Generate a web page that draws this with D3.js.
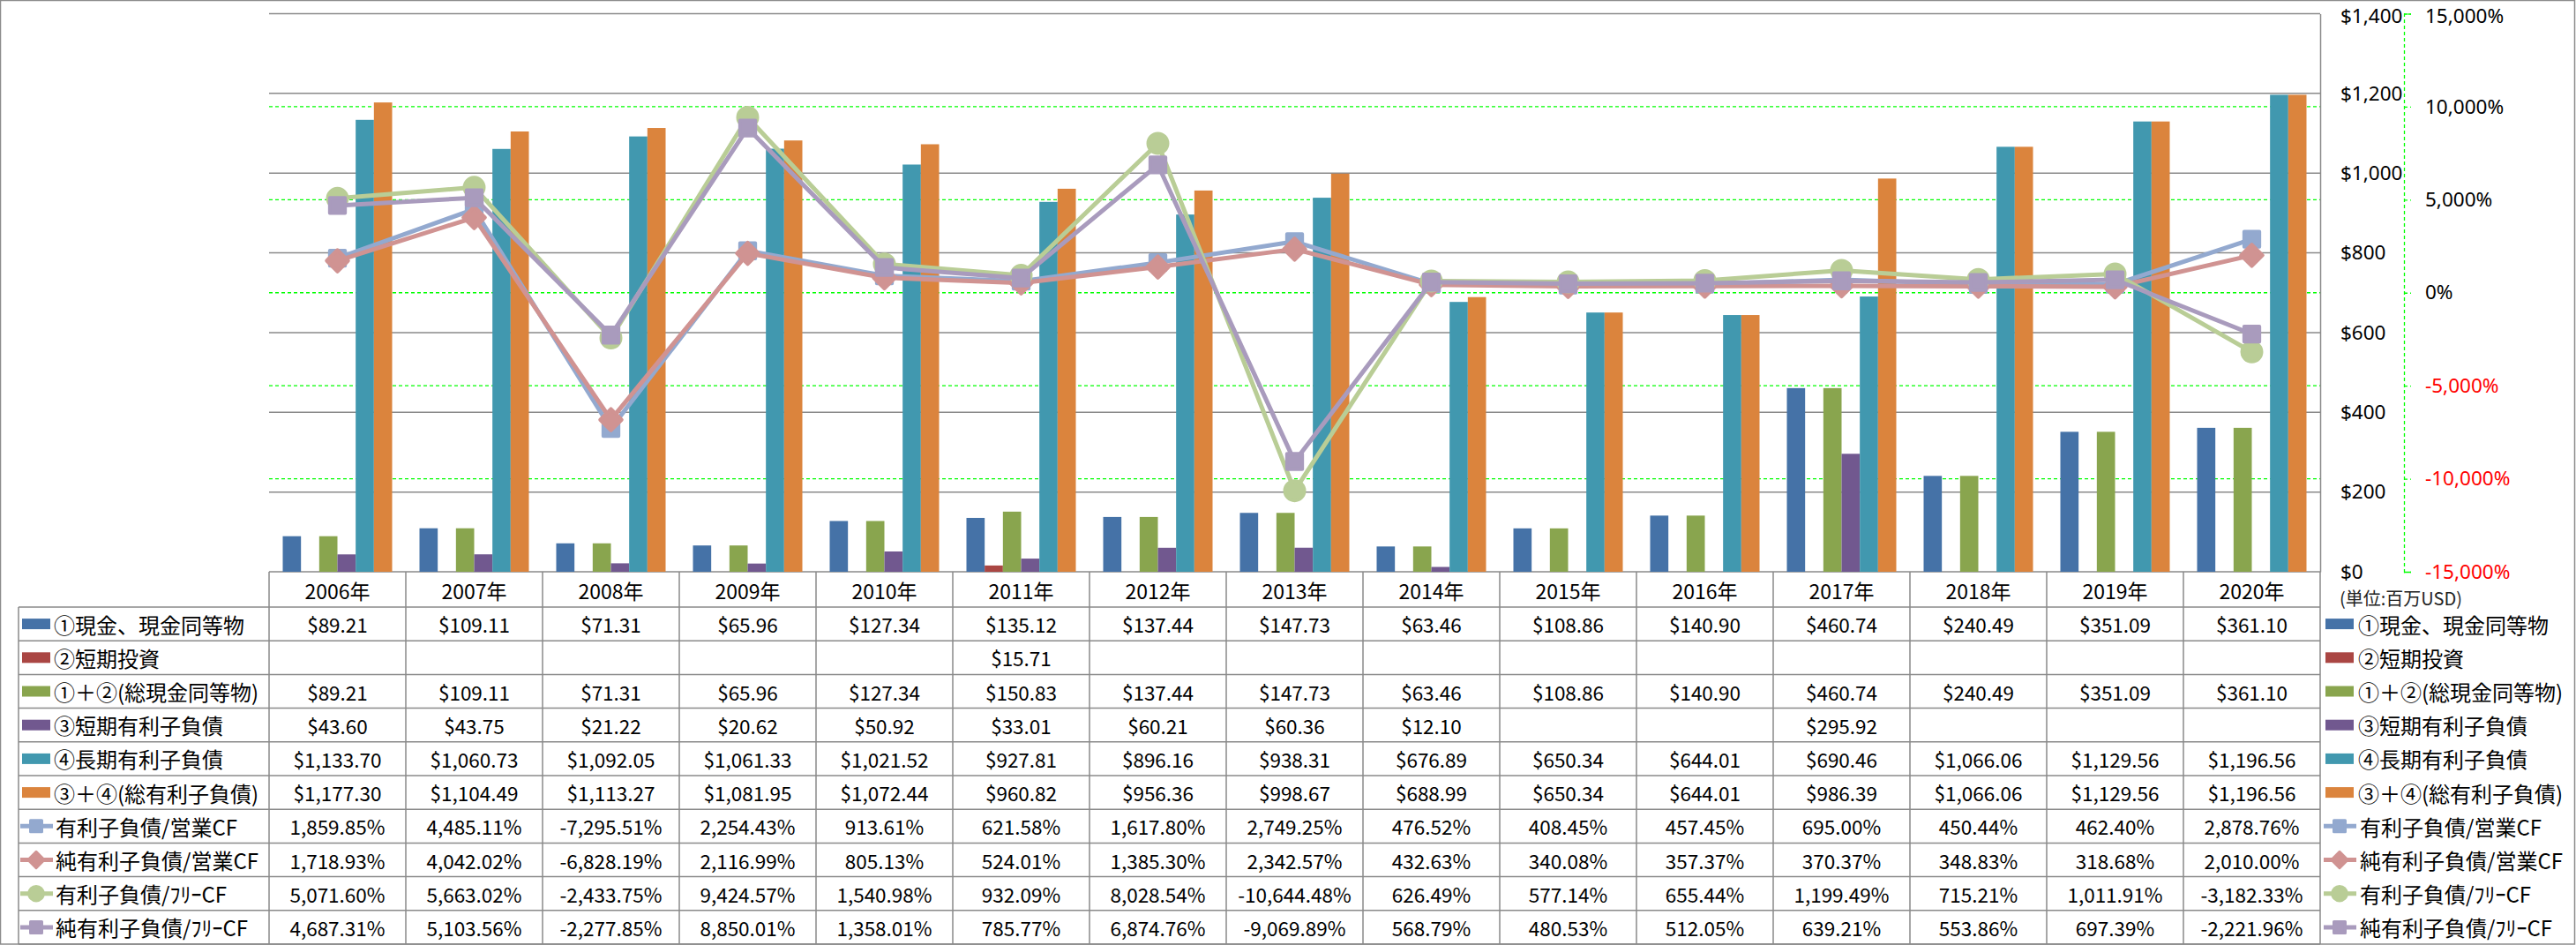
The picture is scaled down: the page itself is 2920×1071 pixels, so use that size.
<!DOCTYPE html>
<html><head><meta charset="utf-8">
<script src="https://cdn.jsdelivr.net/npm/d3@7"></script>
<style>body{margin:0;background:#fff}svg{display:block}</style>
</head><body>
<svg id="c" width="2920" height="1071"></svg>
<script>
// ---- data ----
const years = ["2006年","2007年","2008年","2009年","2010年","2011年","2012年","2013年","2014年","2015年","2016年","2017年","2018年","2019年","2020年"];
const cash        = [89.21,109.11,71.31,65.96,127.34,135.12,137.44,147.73,63.46,108.86,140.90,460.74,240.49,351.09,361.10];
const shortInv    = [null,null,null,null,null,15.71,null,null,null,null,null,null,null,null,null];
const totalCash   = [89.21,109.11,71.31,65.96,127.34,150.83,137.44,147.73,63.46,108.86,140.90,460.74,240.49,351.09,361.10];
const shortDebt   = [43.60,43.75,21.22,20.62,50.92,33.01,60.21,60.36,12.10,null,null,295.92,null,null,null];
const longDebt    = [1133.70,1060.73,1092.05,1061.33,1021.52,927.81,896.16,938.31,676.89,650.34,644.01,690.46,1066.06,1129.56,1196.56];
const totalDebt   = [1177.30,1104.49,1113.27,1081.95,1072.44,960.82,956.36,998.67,688.99,650.34,644.01,986.39,1066.06,1129.56,1196.56];
const debtOCF     = [1859.85,4485.11,-7295.51,2254.43,913.61,621.58,1617.80,2749.25,476.52,408.45,457.45,695.00,450.44,462.40,2878.76];
const netDebtOCF  = [1718.93,4042.02,-6828.19,2116.99,805.13,524.01,1385.30,2342.57,432.63,340.08,357.37,370.37,348.83,318.68,2010.00];
const debtFCF     = [5071.60,5663.02,-2433.75,9424.57,1540.98,932.09,8028.54,-10644.48,626.49,577.14,655.44,1199.49,715.21,1011.91,-3182.33];
const netDebtFCF  = [4687.31,5103.56,-2277.85,8850.01,1358.01,785.77,6874.76,-9069.89,568.79,480.53,512.05,639.21,553.86,697.39,-2221.96];
const leftTicks  = [0,200,400,600,800,1000,1200,1400];
const rightTicks = [-15000,-10000,-5000,0,5000,10000,15000];

const barSeries = [
  {name:"①現金、現金同等物", values:cash, color:"#4572A7"},
  {name:"②短期投資", values:shortInv, color:"#AA4643"},
  {name:"①＋②(総現金同等物)", values:totalCash, color:"#89A54E"},
  {name:"③短期有利子負債", values:shortDebt, color:"#71588F"},
  {name:"④長期有利子負債", values:longDebt, color:"#4198AF"},
  {name:"③＋④(総有利子負債)", values:totalDebt, color:"#DB843D"}
];
const lineSeries = [
  {name:"有利子負債/営業CF", values:debtOCF, color:"#93A9CF", marker:"square"},
  {name:"純有利子負債/営業CF", values:netDebtOCF, color:"#D09392", marker:"diamond"},
  {name:"有利子負債/ﾌﾘｰCF", values:debtFCF, color:"#B9CD96", marker:"circle"},
  {name:"純有利子負債/ﾌﾘｰCF", values:netDebtFCF, color:"#A99BBD", marker:"square"}
];

// ---- layout ----
const FONT = "'Noto Sans CJK JP','Noto Sans',sans-serif";
const NUMFONT = "'Noto Sans','Noto Sans CJK JP',sans-serif";
const plotL = 305, plotR = 2630, plotT = 15.5, plotB = 648;
const tableL = 21, tableB = 1070, headerB = 688;
const gridColor = "#8a8a8a";

const svg = d3.select("#c").style("font-family", FONT);
svg.append("rect").attr("width",2920).attr("height",1071).attr("fill","#fff");
svg.append("rect").attr("x",0.5).attr("y",0.5).attr("width",2918).attr("height",1069.5)
  .attr("fill","none").attr("stroke","#8c8c8c").attr("stroke-width",1.5);

const yL = d3.scaleLinear().domain([0,1400]).range([plotB, plotT]);
const yR = d3.scaleLinear().domain([-15000,15000]).range([plotB, plotT]);
const x0 = d3.scaleBand().domain(years).range([plotL, plotR]);
const x1 = d3.scaleBand().domain(barSeries.map(d=>d.name)).range([0, x0.bandwidth()]).paddingOuter(0.75);
const rowNames = barSeries.map(d=>d.name).concat(lineSeries.map(d=>d.name));
const rowY = d3.scaleBand().domain(rowNames).range([headerB, tableB]);

// gridlines
svg.append("g").selectAll("line").data(leftTicks).join("line")
  .attr("x1",plotL).attr("x2",plotR).attr("y1",d=>yL(d)).attr("y2",d=>yL(d))
  .attr("stroke",gridColor).attr("stroke-width",1.5);
svg.append("g").selectAll("line").data(rightTicks.filter(d=>Math.abs(d)<15000)).join("line")
  .attr("x1",plotL).attr("x2",plotR).attr("y1",d=>yR(d)).attr("y2",d=>yR(d))
  .attr("stroke","#00ff00").attr("stroke-width",1.3).attr("stroke-dasharray","4,3");

// bars
const barG = svg.append("g");
barSeries.forEach(s=>{
  barG.append("g").selectAll("rect")
    .data(years.map((y,i)=>({y, v:s.values[i]})).filter(d=>d.v!=null))
    .join("rect")
    .attr("x",d=>x0(d.y)+x1(s.name)).attr("width",x1.bandwidth())
    .attr("y",d=>yL(d.v)).attr("height",d=>plotB-yL(d.v))
    .attr("fill",s.color);
});

// lines
function markerPath(type, scale){
  if(type==="circle") return d3.symbol(d3.symbolCircle, 380*scale*scale)();
  return d3.symbol(d3.symbolSquare, 300*scale*scale)();
}
function drawMarker(g, type, color, x, y, scale){
  const p = g.append("path").attr("d", markerPath(type, scale))
    .attr("fill",color).attr("stroke",color).attr("stroke-width",4*scale).attr("stroke-linejoin","round");
  if(type==="diamond") p.attr("transform",`translate(${x},${y}) rotate(45)`);
  else p.attr("transform",`translate(${x},${y})`);
}
const cx = y => x0(y) + x0.bandwidth()/2;
const lineGen = d3.line().x(d=>cx(d.y)).y(d=>yR(d.v));
const lineG = svg.append("g");
lineSeries.forEach(s=>{
  const pts = years.map((y,i)=>({y, v:s.values[i]}));
  const g = lineG.append("g");
  g.append("path").datum(pts).attr("d",lineGen).attr("fill","none")
    .attr("stroke",s.color).attr("stroke-width",5).attr("stroke-linejoin","round");
  pts.forEach(p=>drawMarker(g, s.marker, s.color, cx(p.y), yR(p.v), 1));
});

// primary axis (right of plot)
const axL = svg.append("g").attr("transform",`translate(${plotR},0)`)
  .call(d3.axisRight(yL).tickValues(leftTicks).tickSize(0).tickPadding(23).tickSizeOuter(0)
    .tickFormat(d=>"$"+d3.format(",")(d)));
axL.select(".domain").attr("stroke",gridColor).attr("stroke-width",1.5);
axL.selectAll("text").attr("font-size",22.5).attr("fill","#000").attr("font-family",NUMFONT)
  .attr("dy",d=>d===1400?"0.45em":"0.32em");

// secondary axis
const axR = svg.append("g").attr("transform",`translate(2725,0)`)
  .call(d3.axisRight(yR).tickValues(rightTicks).tickSize(8).tickSizeOuter(8).tickPadding(16)
    .tickFormat(d=>d3.format(",")(d).replace("−","-")+"%"));
axR.select(".domain").attr("stroke","#00ff00").attr("stroke-width",1.3).attr("stroke-dasharray","4,3");
axR.selectAll(".tick line").attr("stroke","#00ff00").attr("stroke-width",1.3).attr("stroke-dasharray","4,3");
axR.selectAll("text").attr("font-size",22.5).attr("font-family",NUMFONT).attr("fill",d=>d<0?"#ff0000":"#000")
  .attr("dy",d=>d===15000?"0.45em":"0.32em");

svg.append("text").attr("x",2652).attr("y",677).attr("dominant-baseline","central")
  .attr("font-size",20).attr("fill","#222").text("(単位:百万USD)");

// ---- data table ----
const tbl = svg.append("g");
tbl.selectAll("text.yr").data(years).join("text").attr("class","yr")
  .attr("x",d=>cx(d)).attr("y",(plotB+headerB)/2+1).attr("text-anchor","middle")
  .attr("dominant-baseline","central").attr("font-size",23).text(d=>d);
const hLines = rowNames.map(n=>rowY(n)).concat([tableB]);
tbl.selectAll("line.h").data(hLines).join("line").attr("class","h")
  .attr("x1",tableL).attr("x2",plotR).attr("y1",d=>d).attr("y2",d=>d)
  .attr("stroke",gridColor).attr("stroke-width",1.5);
const vLines = years.map(y=>x0(y)).concat([plotR]);
tbl.selectAll("line.v").data(vLines).join("line").attr("class","v")
  .attr("x1",d=>d).attr("x2",d=>d).attr("y1",plotB).attr("y2",tableB)
  .attr("stroke",gridColor).attr("stroke-width",1.5);
tbl.append("line").attr("x1",tableL).attr("x2",tableL).attr("y1",headerB).attr("y2",tableB)
  .attr("stroke",gridColor).attr("stroke-width",1.5);

const fmtMoney = v => "$"+d3.format(",.2f")(v);
const fmtPct = v => d3.format(",.2f")(v).replace("−","-")+"%";
function rowCenter(n){ return rowY(n)+rowY.bandwidth()/2; }

barSeries.forEach(s=>{
  const yc = rowCenter(s.name);
  tbl.append("g").selectAll("text").data(years.map((y,i)=>({y,v:s.values[i]})).filter(d=>d.v!=null))
    .join("text").attr("x",d=>cx(d.y)).attr("y",yc).attr("text-anchor","middle")
    .attr("dominant-baseline","central").attr("font-size",22.5).text(d=>fmtMoney(d.v));
});
lineSeries.forEach(s=>{
  const yc = rowCenter(s.name);
  tbl.append("g").selectAll("text").data(years.map((y,i)=>({y,v:s.values[i]})))
    .join("text").attr("x",d=>cx(d.y)).attr("y",yc).attr("text-anchor","middle")
    .attr("dominant-baseline","central").attr("font-size",22.5).text(d=>fmtPct(d.v));
});

// legend keys (in table and on the right)
function legendAt(keyX, textX){
  const g = svg.append("g");
  barSeries.forEach(s=>{
    const yc = rowCenter(s.name);
    g.append("rect").attr("x",keyX).attr("y",yc-6).attr("width",32).attr("height",12).attr("fill",s.color);
    g.append("text").attr("x",textX).attr("y",yc).attr("dominant-baseline","central")
      .attr("font-size",24).text(s.name);
  });
  lineSeries.forEach(s=>{
    const yc = rowCenter(s.name);
    g.append("line").attr("x1",keyX-2).attr("x2",keyX+35).attr("y1",yc).attr("y2",yc)
      .attr("stroke",s.color).attr("stroke-width",5);
    drawMarker(g, s.marker, s.color, keyX+16, yc, 0.75);
    g.append("text").attr("x",textX+2).attr("y",yc).attr("dominant-baseline","central")
      .attr("font-size",24).text(s.name);
  });
}
legendAt(25, 61);
legendAt(2636, 2673);
</script>
</body></html>
